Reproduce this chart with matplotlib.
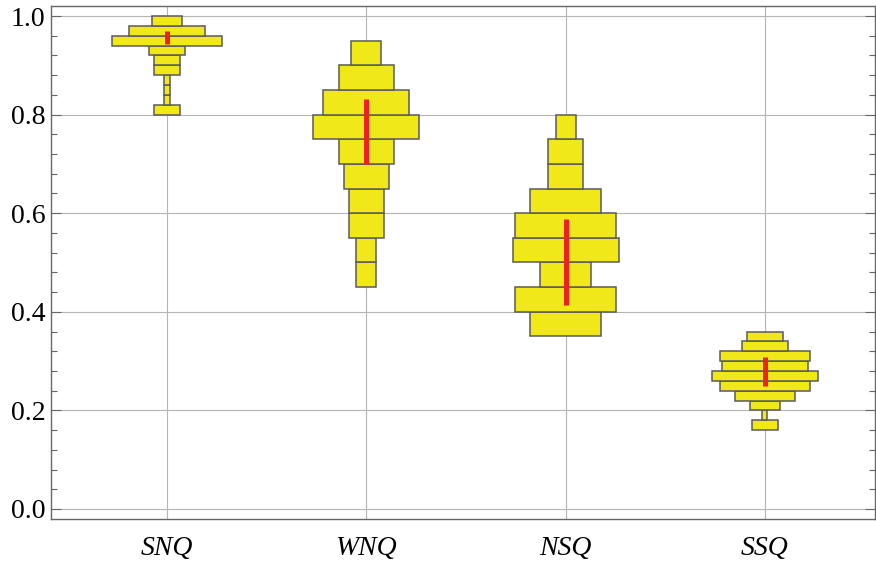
import matplotlib
matplotlib.use('Agg')
import matplotlib.pyplot as plt
from matplotlib.ticker import MultipleLocator

# categories and histogram data (bin start, bin step, counts from low to high)
categories = ['SNQ', 'WNQ', 'NSQ', 'SSQ']
bin_start = [0.80, 0.45, 0.35, 0.16]
bin_step = [0.02, 0.05, 0.05, 0.02]
snq_counts = [5, 1, 1, 1, 5, 5, 7, 22, 15, 6]
wnq_counts = [4, 4, 7, 7, 9, 11, 21, 17, 11, 6]
nsq_counts = [14, 20, 10, 21, 20, 14, 7, 7, 4]
ssq_counts = [5, 1, 6, 12, 18, 21, 17, 18, 9, 7]
counts = [snq_counts, wnq_counts, nsq_counts, ssq_counts]
# red interval bars (low, high)
interval_low = [0.943, 0.700, 0.414, 0.249]
interval_high = [0.969, 0.832, 0.588, 0.308]

width_per_count = 0.0253
yellow = '#f1e81a'
edge = '#5a5a5a'


def main():
    plt.rcParams['font.family'] = ['Liberation Serif', 'DejaVu Serif']
    fig = plt.figure(figsize=(8.76, 5.61), dpi=100)
    ax = fig.add_axes([0.0582, 0.0749, 0.9406, 0.9144])

    for i, cnt in enumerate(counts):
        xpos = i + 1
        bottoms = [bin_start[i] + k * bin_step[i] for k in range(len(cnt))]
        widths = [c * width_per_count for c in cnt]
        ax.bar([xpos] * len(cnt), [bin_step[i]] * len(cnt), width=widths,
               bottom=bottoms, align='center', color=yellow,
               edgecolor=edge, linewidth=1.1, zorder=3)
        ax.plot([xpos, xpos], [interval_low[i], interval_high[i]],
                color='#ee2020', linewidth=3.6, solid_capstyle='butt',
                zorder=4)

    ax.set_xlim(0.418, 4.552)
    ax.set_ylim(-0.0203, 1.0203)
    ax.set_xticks(range(1, len(categories) + 1))
    ax.set_xticklabels(categories, fontstyle='italic', fontsize=20)
    ax.yaxis.set_major_locator(MultipleLocator(0.2))
    ax.yaxis.set_minor_locator(MultipleLocator(0.04))
    ax.set_yticklabels(['%.1f' % v for v in ax.get_yticks()], fontsize=20)

    ax.grid(True, which='major', color='#b4b4b4', linewidth=0.8, zorder=0)
    ax.set_axisbelow(True)
    ax.tick_params(axis='y', which='major', direction='in', length=7,
                   width=0.8, color='#666666', left=True, right=True, pad=4)
    ax.tick_params(axis='y', which='minor', direction='in', length=4,
                   width=0.8, color='#666666', left=True, right=True)
    ax.tick_params(axis='x', which='major', direction='in', length=0, pad=12)
    for sp in ax.spines.values():
        sp.set_color('#666666')
        sp.set_linewidth(1.0)

    fig.savefig('out.png', dpi=100)


if __name__ == "__main__":
    main()
